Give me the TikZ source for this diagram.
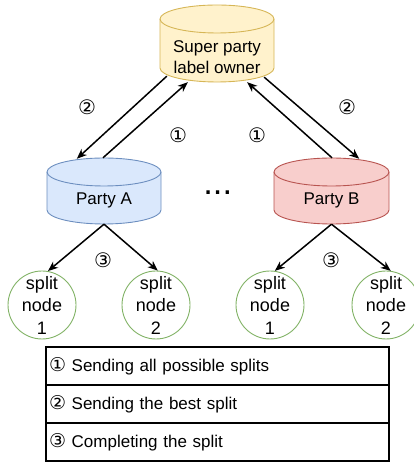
\documentclass[tikz,border=0pt]{standalone}
\usepackage{fontspec}
\setmainfont{Liberation Sans}
\newfontfamily\circfont{DejaVu Sans}
\usetikzlibrary{arrows.meta,calc}
\definecolor{supfill}{HTML}{FFF2CC}\definecolor{supdraw}{HTML}{D6B656}
\definecolor{afill}{HTML}{DAE8FC}\definecolor{adraw}{HTML}{6C8EBF}
\definecolor{bfill}{HTML}{F8CECC}\definecolor{bdraw}{HTML}{B85450}
\definecolor{gdraw}{HTML}{82B366}
\newcommand{\mycylshape}[6]{%
  \filldraw[fill=#5,draw=#6,line width=0.9pt] ({#1-#2},#3) -- ({#1-#2},#4)
    arc[start angle=180,end angle=360,x radius=#2,y radius=14] -- ({#1+#2},#3)
    arc[start angle=0,end angle=180,x radius=#2,y radius=14] -- cycle;
  \draw[draw=#6,line width=0.9pt] ({#1-#2},#3) arc[start angle=180,end angle=360,x radius=#2,y radius=14];}
\tikzset{
  txt/.style={inner sep=0pt,align=center,font=\fontsize{17}{21}\selectfont},
  cylbox/.style={inner sep=0pt,draw=none,minimum width=114pt},
  arr/.style={line width=1.5pt,-{Stealth[length=10pt,width=8pt,inset=3pt]}},
  splitc/.style={circle,draw=gdraw,fill=white,line width=0.9pt,minimum size=68pt,inner sep=0pt},
  splittxt/.style={inner sep=0pt,align=center,font=\fontsize{18}{22.5}\selectfont},
  num/.style={inner sep=0pt,font=\circfont\fontsize{20}{21}\selectfont},
  legbox/.style={draw,line width=1.5pt,minimum width=343pt,minimum height=38pt,text width=337pt,inner xsep=3pt,inner ysep=0pt,align=left,font=\fontsize{17}{21}\selectfont}
}
\begin{document}
\begin{tikzpicture}[x=1pt,y=1pt]
\useasboundingbox (0,0) rectangle (414,463);
% cylinders
\mycylshape{217}{57}{444}{395}{supfill}{supdraw}
\mycylshape{104}{57}{291}{253}{afill}{adraw}
\mycylshape{331.5}{57.5}{291}{253}{bfill}{bdraw}
\node[cylbox,minimum height=77pt,label={[txt,yshift=-14pt]center:{Super party\\label owner}}] (sup) at (217,419.5) {};
\node[cylbox,minimum height=66pt,label={[txt,yshift=-9pt]center:{Party A}}] (pa) at (104,272) {};
\node[cylbox,minimum width=115pt,minimum height=66pt,label={[txt,yshift=-9pt]center:{Party B}}] (pb) at (331.5,272) {};
% split nodes
\node[splitc,label={[splittxt]center:{split\\node\\1}}] (s1) at (42,158) {};
\node[splitc,label={[splittxt]center:{split\\node\\2}}] (s2) at (156,158) {};
\node[splitc,label={[splittxt]center:{split\\node\\1}}] (s3) at (270,158) {};
\node[splitc,label={[splittxt]center:{split\\node\\2}}] (s4) at (386,158) {};
% arrows
\draw[arr] ($(sup.south west)+(7,6)$) -- ($(pa.north west)+(30,-1)$);
\draw[arr] ($(pa.north)+(-1,0)$) -- ($(sup.south west)+(28,0)$);
\draw[arr] ($(sup.south east)+(-10,5)$) -- ($(pb.north east)+(-30,-1)$);
\draw[arr] ($(pb.north)+(0.5,0)$) -- ($(sup.south east)+(-27,0)$);
\draw[arr] (pa.south) -- (s1.80);
\draw[arr] (pa.south) -- (s2.87);
\draw[arr] (pb.south) -- (s3.82);
\draw[arr] (pb.south) -- (s4.82);
% step labels
\node[num] (n2a) at (87,356) {②};
\node[num] (n1a) at (178,328) {①};
\node[num] (n1b) at (257,328) {①};
\node[num] (n2b) at (347,356) {②};
\node[num] (n3a) at (103,203) {③};
\node[num] (n3b) at (331,203) {③};
% dots
\node[anchor=base,inner sep=0pt,font=\fontsize{34.5}{34}\selectfont] (dots) at (217.7,268) {...};
% legend
\node[legbox] (l1) at (217.5,97) {{\circfont\fontsize{19}{21}\selectfont ①} Sending all possible splits};
\node[legbox] (l2) at (217.5,59) {{\circfont\fontsize{19}{21}\selectfont ②} Sending the best split};
\node[legbox] (l3) at (217.5,21) {{\circfont\fontsize{19}{21}\selectfont ③} Completing the split};
\end{tikzpicture}
\end{document}
